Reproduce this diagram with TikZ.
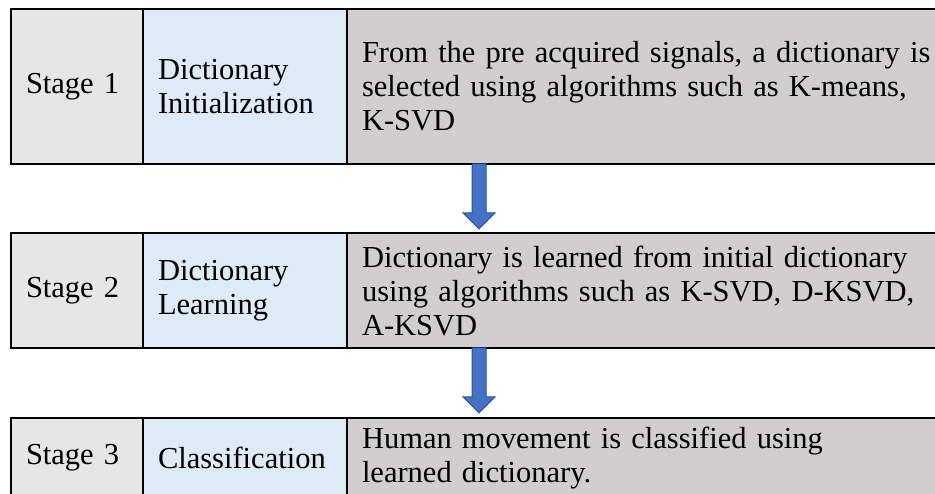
\documentclass[tikz,border=0pt]{standalone}
\usepackage{fontspec}
\setmainfont{Liberation Serif}
\usetikzlibrary{calc}
\definecolor{cA}{HTML}{E7E6E6}
\definecolor{cB}{HTML}{DEEBF7}
\definecolor{cC}{HTML}{D0CECE}
\definecolor{arrF}{HTML}{4472C4}
\definecolor{arrD}{HTML}{2F528F}
\begin{document}
\begin{tikzpicture}[x=1pt,y=-1pt,
  cell/.style={draw=black, line width=2pt, rectangle, anchor=north west,
    inner xsep=15pt, inner ysep=0pt, align=left,
    font=\fontsize{30.5}{34}\selectfont},
  stagecell/.style={cell, fill=cA, text width=102pt},
  namecell/.style={cell, fill=cB, text width=174pt},
  desccell/.style={cell, fill=cC, text width=590pt},
  bluearrow/.style={draw=arrD, fill=arrF, line width=1pt, line join=miter,
    to path={let \p1=(\tikztostart), \p2=(\tikztotarget) in
      ({\x1-7pt},\y1) -- ({\x1+7pt},\y1) -- ({\x1+7pt},{\y2+16pt}) --
      ({\x1+16pt},{\y2+16pt}) -- (\x1,\y2) -- ({\x1-16pt},{\y2+16pt}) --
      ({\x1-7pt},{\y2+16pt}) -- cycle}}
]
\useasboundingbox (0,0) rectangle (935,494);
% row 1
\node[stagecell, minimum height=155pt] (r1c1) at (10,8) {Stage 1};
\node[namecell, minimum height=155pt] (r1c2) at (142,8) {Dictionary\\Initialization};
\node[desccell, minimum height=155pt] (r1c3) at (346,8) {From the pre acquired signals, a dictionary is\\selected using algorithms such as K-means,\\K-SVD};
% row 2
\node[stagecell, minimum height=115pt] (r2c1) at (10,232) {Stage 2};
\node[namecell, minimum height=115pt] (r2c2) at (142,232) {Dictionary\\Learning};
\node[desccell, minimum height=115pt] (r2c3) at (346,232) {Dictionary is learned from initial dictionary\\using algorithms such as K-SVD, D-KSVD,\\A-KSVD};
% row 3
\node[stagecell, minimum height=80pt] (r3c1) at (10,417) {Stage 3};
\node[namecell, minimum height=80pt] (r3c2) at (142,417) {Classification};
\node[desccell, minimum height=80pt] (r3c3) at (346,417) {Human movement is classified using\\learned dictionary.};
% arrows
\draw[bluearrow] ($(r1c3.south west)+(133,-1)$) to ($(r2c3.north west)+(133,-3)$);
\draw[bluearrow] ($(r2c3.south west)+(133,-1)$) to ($(r3c3.north west)+(133,-4)$);
\end{tikzpicture}
\end{document}
